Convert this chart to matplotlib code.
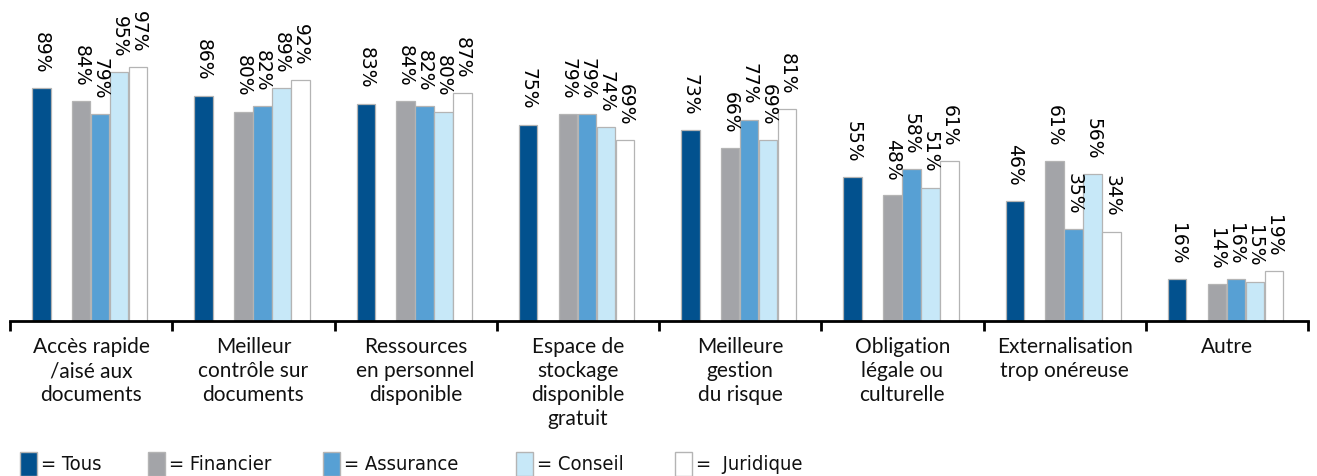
import matplotlib
matplotlib.use("Agg")
import matplotlib.pyplot as plt
from matplotlib.patches import Rectangle
import numpy as np

categories = [
    "Accès rapide\n/aisé aux\ndocuments",
    "Meilleur\ncontrôle sur\ndocuments",
    "Ressources\nen personnel\ndisponible",
    "Espace de\nstockage\ndisponible\ngratuit",
    "Meilleure\ngestion\ndu risque",
    "Obligation\nlégale ou\nculturelle",
    "Externalisation\ntrop onéreuse",
    "Autre",
]
series_names = ["Tous", "Financier", "Assurance", "Conseil", "Juridique"]
tous = [89, 86, 83, 75, 73, 55, 46, 16]
financier = [84, 80, 84, 79, 66, 48, 61, 14]
assurance = [79, 82, 82, 79, 77, 58, 35, 16]
conseil = [95, 89, 80, 74, 69, 51, 56, 15]
juridique = [97, 92, 87, 69, 81, 61, 34, 19]
series_values = [tous, financier, assurance, conseil, juridique]

colors = ["#02518E", "#A3A4A8", "#57A0D4", "#C7E8F8", "#FFFFFF"]
edge = "#B4B4B4"
offsets = [0.194, 0.438, 0.556, 0.673, 0.790]
width = 0.114

W, H = 1317, 477
fig = plt.figure(figsize=(W / 100, H / 100), dpi=100)
left, right = 10 / W, 1308 / W
bottom = (H - 322) / H
ax = fig.add_axes([left, bottom, right - left, 1 - bottom - 8 / H])
ymax = 120
ax.set_xlim(0, len(categories))
ax.set_ylim(0, ymax)

x = np.arange(len(categories))
for vals, off, col in zip(series_values, offsets, colors):
    bars = ax.bar(x + off, vals, width=width, color=col, edgecolor=edge, linewidth=0.9, zorder=2)
    for b, v in zip(bars, vals):
        ax.annotate(f"{v}%", (b.get_x() + b.get_width() / 2, b.get_height()),
                    xytext=(0, 11.5), textcoords="offset points", rotation=270,
                    ha="center", va="bottom", fontsize=13.5, family="DejaVu Sans",
                    color="#000000")

for s in ["top", "right", "left"]:
    ax.spines[s].set_visible(False)
ax.spines["bottom"].set_linewidth(2)
ax.set_yticks([])
ax.set_xticks(np.arange(len(categories) + 1))
ax.set_xticklabels([])
ax.tick_params(axis="x", which="major", length=7, width=2, direction="out")
ax.set_xticks(x + 0.5, minor=True)
ax.set_xticklabels(categories, minor=True, fontsize=15, family="Lato",
                   linespacing=1.25, va="top", color="#111111")
ax.tick_params(axis="x", which="minor", length=0, pad=11)

# legend
leg_sq_x = [20, 148, 323, 516, 675]
leg_txt = ["= Tous", "= Financier", "= Assurance", "= Conseil", "=  Juridique"]
for name, sx, col, t in zip(series_names, leg_sq_x, colors, leg_txt):
    r = Rectangle((sx / W, 0), 17 / W, 24 / H, transform=fig.transFigure,
                  facecolor=col, edgecolor=edge, linewidth=1.0)
    fig.patches.append(r)
    fig.text((sx + 21) / W, (H - 465) / H, t, fontsize=14.5, va="center", ha="left",
             family=["Liberation Sans Narrow", "DejaVu Sans"], stretch="condensed",
             color="#111111")

fig.savefig("out.png", dpi=100)
